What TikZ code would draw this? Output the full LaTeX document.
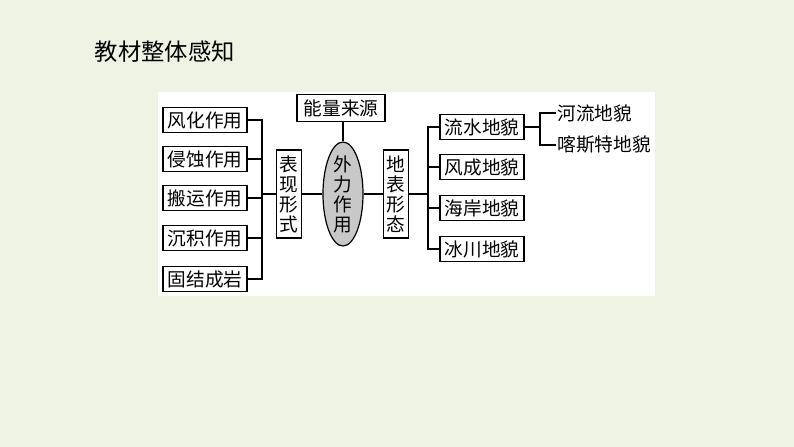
\documentclass[tikz,border=0pt]{standalone}
\usepackage{fontspec}
\setmainfont{Noto Sans CJK SC}
\usepackage{tikz}
\usetikzlibrary{shapes.geometric}
\definecolor{PageBg}{RGB}{238,243,228}
\definecolor{OvalGray}{RGB}{200,200,200}

\begin{document}
\begin{tikzpicture}[
  x=0.75pt, y=-0.75pt,
  every node/.style={font=\fontsize{14}{15}\selectfont},
  hbox/.style={draw, line width=0.9pt, minimum width=63pt, minimum height=18.75pt, inner sep=1pt},
  vbox/.style={draw, line width=0.9pt, align=center, minimum width=18.75pt, minimum height=66pt, inner sep=1pt},
  link/.style={line width=0.8pt},
]
  % page and panel
  \fill[PageBg] (0,0) rectangle (794,447);
  \fill[white] (158,92) rectangle (655,296);
  \node[anchor=west, font=\fontsize{17.5}{20}\selectfont] (title) at (90,52) {教材整体感知};

  % left column
  \node[hbox] (fh) at (205,120) {风化作用};
  \node[hbox] (qs) at (205,159) {侵蚀作用};
  \node[hbox] (by) at (205,198) {搬运作用};
  \node[hbox] (cj) at (205,238) {沉积作用};
  \node[hbox] (gj) at (205,279) {固结成岩};
  \coordinate (lspine) at (262,194);

  % centre
  \node[vbox] (bx) at (289,194) {表\\现\\形\\式};
  \node[draw, ellipse, line width=0.9pt, fill=OvalGray, minimum width=30pt, minimum height=78pt, inner sep=0pt] (wl) at (343,194) {};
  \node[align=center] (wltext) at (wl.center) {外\\力\\作\\用};
  \node[hbox, minimum width=66pt, minimum height=20pt] (nl) at (341,108) {能量来源};
  \node[vbox] (db) at (396,194) {地\\表\\形\\态};

  % right column
  \coordinate (rspine) at (428,194);
  \node[hbox] (ls) at (482,127) {流水地貌};
  \node[hbox] (fc) at (482,167) {风成地貌};
  \node[hbox] (ha) at (482,208) {海岸地貌};
  \node[hbox] (bc) at (482,249) {冰川地貌};
  \coordinate (tspine) at (540,127);
  \node[anchor=west, inner sep=1pt] (hl) at (556,113) {河流地貌};
  \node[anchor=west, inner sep=1pt] (ks) at (556,145) {喀斯特地貌};

  % connectors
  \foreach \n in {fh,qs,by,cj,gj}{
    \draw[link] (\n.east) -| (lspine);
  }
  \draw[link] (lspine) -- (bx.west);
  \draw[link] (bx.east) -- (wl.west);
  \draw[link] (nl.south -| wl.north) -- (wl.north);
  \draw[link] (wl.east) -- (db.west);
  \draw[link] (db.east) -- (rspine);
  \foreach \n in {ls,fc,ha,bc}{
    \draw[link] (\n.west) -| (rspine);
  }
  \draw[link] (ls.east) -- (tspine);
  \draw[link] (hl.west) -| (tspine);
  \draw[link] (ks.west) -| (tspine);
\end{tikzpicture}
\end{document}
